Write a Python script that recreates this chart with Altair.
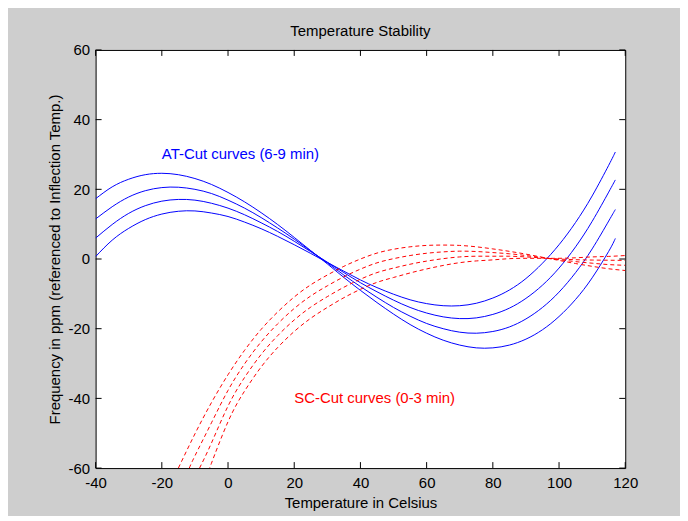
import altair as alt
import pandas as pd

# ---------------- data ----------------
# AT-cut curves (blue, solid) -- temperatures in Celsius
at_temps = [-40, -35, -30, -25, -20, -15, -10, -5, 0, 5, 10, 15, 20, 25, 30, 35, 40,
            45, 50, 55, 60, 65, 70, 75, 80, 85, 90, 95, 100, 105, 110, 115, 117]
at_curve_1 = [0.7, 5.4, 8.8, 11.3, 12.9, 13.7, 13.8, 13.2, 12.2, 10.6, 8.7, 6.5, 4.1, 1.6,
              -1.0, -3.5, -6.0, -8.2, -10.1, -11.7, -12.8, -13.4, -13.4, -12.7, -11.2, -8.9,
              -5.6, -1.2, 4.1, 10.5, 18.1, 26.9, 30.7]
at_curve_2 = [6.0, 9.9, 13.1, 15.3, 16.6, 17.1, 16.9, 16.0, 14.6, 12.7, 10.4, 7.9, 5.1, 2.1,
              -0.9, -3.9, -6.8, -9.4, -11.8, -13.9, -15.5, -16.6, -17.1, -16.9, -15.9, -14.1,
              -11.3, -7.5, -2.6, 3.5, 10.8, 19.2, 22.7]
at_curve_3 = [11.5, 15.0, 17.8, 19.6, 20.5, 20.6, 20.0, 18.8, 16.9, 14.6, 11.9, 8.9, 5.7, 2.3,
              -1.1, -4.6, -7.9, -11.0, -13.9, -16.4, -18.5, -20.0, -21.0, -21.3, -20.8, -19.5,
              -17.2, -13.9, -9.5, -3.9, 2.9, 10.9, 14.2]
at_curve_4 = [17.3, 20.7, 22.9, 24.2, 24.6, 24.2, 23.1, 21.4, 19.1, 16.4, 13.3, 9.9, 6.2, 2.4,
              -1.4, -5.3, -9.0, -12.5, -15.8, -18.8, -21.3, -23.3, -24.7, -25.5, -25.5, -24.7,
              -23.0, -20.3, -16.5, -11.6, -5.4, 2.2, 5.9]

# SC-cut curves (red, dashed)
sc_temps_1 = [-15, -10, -5, 0, 5, 10, 15, 20, 25, 30, 35, 40, 45, 50, 55, 60, 65, 70, 75,
              80, 85, 90, 95, 100, 105, 110, 115, 120]
sc_curve_1 = [-60.0, -50.2, -41.2, -33.2, -26.2, -20.2, -15.2, -10.9, -7.4, -4.6, -2.1, 0.0,
              1.7, 2.8, 3.5, 3.9, 4.0, 3.9, 3.5, 2.9, 2.2, 1.4, 0.5, -0.4, -1.3, -2.1, -2.8, -3.3]
sc_temps_2 = [-11.7, -10, -5, 0, 5, 10, 15, 20, 25, 30, 35, 40, 45, 50, 55, 60, 65, 70, 75,
              80, 85, 90, 95, 100, 105, 110, 115, 120]
sc_curve_2 = [-60.0, -56.5, -47.0, -37.7, -30.1, -23.8, -18.6, -14.2, -10.6, -7.7, -5.1, -2.9,
              -1.1, 0.1, 1.0, 1.65, 2.05, 2.25, 2.15, 1.85, 1.5, 1.0, 0.4, -0.2, -0.75, -1.2,
              -1.6, -1.8]
sc_temps_3 = [-8.6, -5, 0, 5, 10, 15, 20, 25, 30, 35, 40, 45, 50, 55, 60, 65, 70, 75,
              80, 85, 90, 95, 100, 105, 110, 115, 120]
sc_curve_3 = [-60.0, -52.8, -42.2, -34.0, -27.4, -22.0, -17.5, -13.8, -10.8, -8.1, -5.8, -3.9,
              -2.6, -1.5, -0.6, 0.1, 0.6, 0.8, 0.8, 0.8, 0.6, 0.3, 0.0, -0.2, -0.3, -0.35, -0.4]
sc_temps_4 = [-5.6, -5, 0, 5, 10, 15, 20, 25, 30, 35, 40, 45, 50, 55, 60, 65, 70, 75,
              80, 85, 90, 95, 100, 105, 110, 115, 120]
sc_curve_4 = [-60.0, -58.6, -46.7, -37.9, -31.0, -25.4, -20.8, -17.0, -13.9, -11.1, -8.7, -6.7,
              -5.3, -4.0, -2.85, -1.85, -1.05, -0.55, -0.25, 0.1, 0.2, 0.2, 0.2, 0.35, 0.6,
              0.75, 1.0]

x_tick_values = [-40, -20, 0, 20, 40, 60, 80, 100, 120]
y_tick_values = [-60, -40, -20, 0, 20, 40, 60]

# ---------------- tables ----------------
rows = []
for name, temps, vals in [("AT1", at_temps, at_curve_1), ("AT2", at_temps, at_curve_2),
                          ("AT3", at_temps, at_curve_3), ("AT4", at_temps, at_curve_4)]:
    for t, v in zip(temps, vals):
        rows.append({"curve": name, "temp": t, "ppm": v})
at_df = pd.DataFrame(rows)

rows = []
for name, temps, vals in [("SC1", sc_temps_1, sc_curve_1), ("SC2", sc_temps_2, sc_curve_2),
                          ("SC3", sc_temps_3, sc_curve_3), ("SC4", sc_temps_4, sc_curve_4)]:
    for t, v in zip(temps, vals):
        rows.append({"curve": name, "temp": t, "ppm": v})
sc_df = pd.DataFrame(rows)

xt_df = pd.DataFrame({"temp": x_tick_values})
yt_df = pd.DataFrame({"ppm": y_tick_values})

# ---------------- chart ----------------
FONT = "Liberation Sans"
FS = 15
W, H = 532, 420
TICK = 6

xscale = alt.Scale(domain=[-40, 120], nice=False, zero=False)
yscale = alt.Scale(domain=[-60, 60], nice=False, zero=False)

x_axis = alt.Axis(values=x_tick_values, title="Temperature in Celsius", ticks=False, tickSize=0,
                  domain=False, grid=False, labelPadding=8, titlePadding=5,
                  labelFont=FONT, titleFont=FONT, labelFontSize=FS, titleFontSize=FS,
                  titleFontWeight="normal", labelColor="black", titleColor="black",
                  labelFlush=False, labelOverlap=False, labelExpr="'' + datum.value")
y_axis = alt.Axis(values=y_tick_values, title="Frequency in ppm (referenced to Inflection Temp.)",
                  ticks=False, tickSize=0, domain=False, grid=False, labelPadding=6,
                  titlePadding=6, labelFont=FONT, titleFont=FONT, labelFontSize=FS,
                  titleFontSize=FS, titleFontWeight="normal", labelColor="black",
                  titleColor="black", labelFlush=False, labelOverlap=False,
                  labelExpr="'' + datum.value")

X = alt.X("temp:Q", scale=xscale, axis=x_axis)
Y = alt.Y("ppm:Q", scale=yscale, axis=y_axis)

at_lines = alt.Chart(at_df).mark_line(
    color="#0000ff", strokeWidth=1, interpolate="natural", clip=True
).encode(x=X, y=Y, detail="curve:N")

sc_lines = alt.Chart(sc_df).mark_line(
    color="#ff0000", strokeWidth=1, strokeDash=[4, 3], interpolate="natural", clip=True
).encode(x=X, y=Y, detail="curve:N")

top_ticks = alt.Chart(xt_df).mark_rule(color="black", strokeWidth=1).encode(
    x=X, y=alt.value(0), y2=alt.value(TICK))
bottom_ticks = alt.Chart(xt_df).mark_rule(color="black", strokeWidth=1).encode(
    x=X, y=alt.value(H), y2=alt.value(H - TICK))
left_ticks = alt.Chart(yt_df).mark_rule(color="black", strokeWidth=1).encode(
    y=Y, x=alt.value(0), x2=alt.value(TICK))
right_ticks = alt.Chart(yt_df).mark_rule(color="black", strokeWidth=1).encode(
    y=Y, x=alt.value(W), x2=alt.value(W - TICK))

at_label = alt.Chart(pd.DataFrame({"temp": [-20], "ppm": [30]})).mark_text(
    text="AT-Cut curves (6-9 min)", color="#0000ff", align="left", baseline="middle",
    font=FONT, fontSize=FS
).encode(x=X, y=Y)

sc_label = alt.Chart(pd.DataFrame({"temp": [20], "ppm": [-40]})).mark_text(
    text="SC-Cut curves (0-3 min)", color="#ff0000", align="left", baseline="middle",
    font=FONT, fontSize=FS
).encode(x=X, y=Y)

chart = alt.layer(
    at_lines, sc_lines, top_ticks, bottom_ticks, left_ticks, right_ticks, at_label, sc_label
).properties(
    width=W,
    height=H,
    title=alt.TitleParams("Temperature Stability", font=FONT, fontSize=FS, fontWeight="normal",
                          color="black", anchor="middle", frame="group", offset=4),
    padding={"left": 88, "top": 41, "right": 55, "bottom": 47},
    autosize=alt.AutoSizeParams(type="none"),
    background="#cecece",
).configure_view(stroke="black", strokeWidth=1, fill="white")

chart.save("out.html", embed_options={"renderer": "svg", "actions": False})
